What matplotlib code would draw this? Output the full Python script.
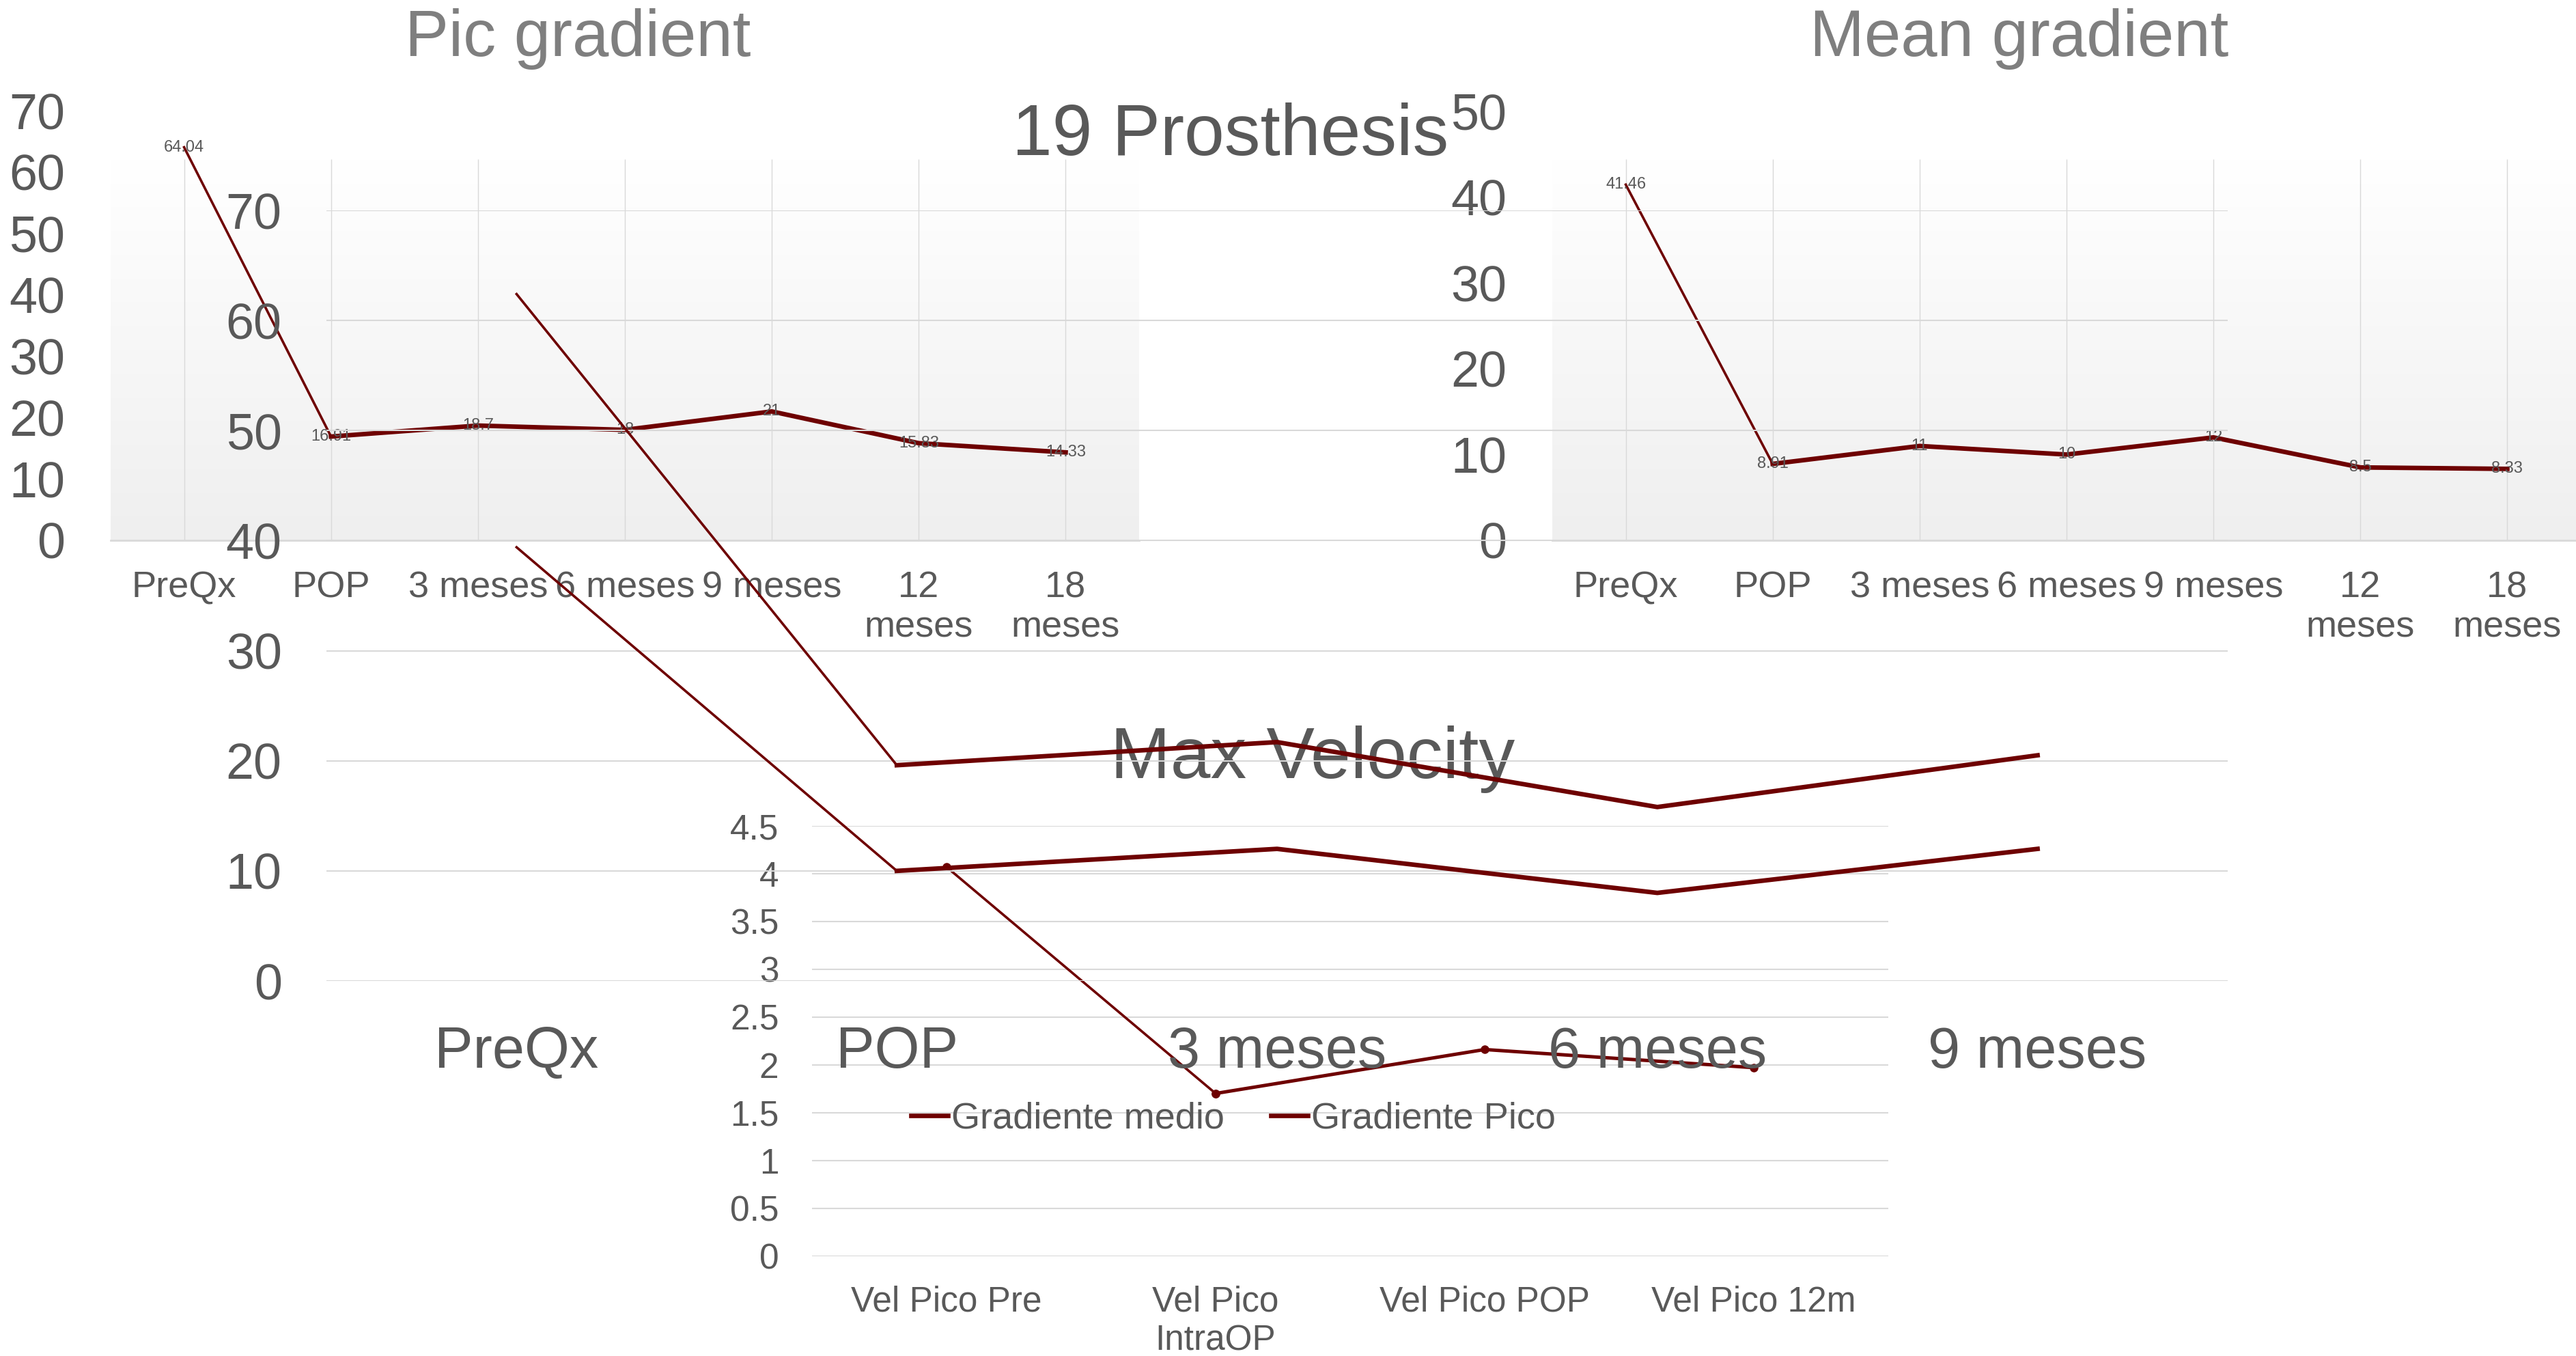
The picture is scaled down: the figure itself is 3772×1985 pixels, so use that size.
import numpy as np
import matplotlib
matplotlib.use("Agg")
import matplotlib.pyplot as plt
from matplotlib.colors import LinearSegmentedColormap

plt.rcParams['font.family'] = ['Liberation Sans', 'DejaVu Sans']

# data
stages = ['PreQx', 'POP', '3 meses', '6 meses', '9 meses', '12 meses', '18 meses']
stage_ticks = ['PreQx', 'POP', '3 meses', '6 meses', '9 meses', '12\nmeses', '18\nmeses']
pic_gradient = [64.04, 16.91, 18.7, 18, 21, 15.83, 14.33]
pic_labels = ['64.04', '16.91', '18.7', '18', '21', '15.83', '14.33']
mean_gradient = [41.46, 8.91, 11, 10, 12, 8.5, 8.33]
mean_labels = ['41.46', '8.91', '11', '10', '12', '8.5', '8.33']

pros_stages = ['PreQx', 'POP', '3 meses', '6 meses', '9 meses']
pros_series = ['Gradiente medio', 'Gradiente Pico']
grad_medio = [39.4, 10.0, 12.0, 8.0, 12.0]
grad_pico = [62.4, 19.6, 21.7, 15.8, 20.5]

vel_stages = ['Vel Pico Pre', 'Vel Pico\nIntraOP', 'Vel Pico POP', 'Vel Pico 12m']
vel_pico = [4.07, 1.70, 2.16, 1.97]

W, H = 3773, 1985
fig = plt.figure(figsize=(W / 100, H / 100), dpi=100)
fig.patch.set_facecolor('white')

red = '#6e0000'
txt = '#595959'
grid = '#d9d9d9'
thick = 4.8
thin = 2.6
grad_cmap = LinearSegmentedColormap.from_list('bg', ['#ffffff', '#efefef'])


def box(x0, x1, ytop, ybot):
    ax = fig.add_axes([x0 / W, 1 - ybot / H, (x1 - x0) / W, (ybot - ytop) / H])
    ax.patch.set_alpha(0)
    for s in ax.spines.values():
        s.set_visible(False)
    return ax


def split_line(ax, x, y, **kw):
    # first segment is drawn thin in the original, the rest thick
    ax.plot(x[:2], y[:2], color=red, lw=thin, clip_on=False, **kw)
    ln, = ax.plot(x[1:], y[1:], color=red, lw=thick, clip_on=False, **kw)
    return ln


def small_chart(ax, vals, labels, ymax, bg_top, title, title_x):
    x = np.arange(len(stages))
    ax.imshow(np.linspace(0, 1, 256).reshape(-1, 1), cmap=grad_cmap, aspect='auto',
              extent=(-0.5, len(stages) - 0.5, 0, bg_top), origin='upper', zorder=0)
    ax.vlines(x, 0, bg_top, color=grid, lw=1, zorder=1)
    ax.axhline(0, color=grid, lw=2, zorder=1, clip_on=False)
    split_line(ax, x, vals, zorder=3)
    for xi, v, lab in zip(x, vals, labels):
        ax.text(xi, v, lab, ha='center', va='center', fontsize=17, color=txt, zorder=4)
    ax.set_xlim(-0.5, len(stages) - 0.5)
    ax.set_ylim(0, ymax)
    ax.set_yticks(np.arange(0, ymax + 1, 10))
    ax.set_xticks(x)
    ax.set_xticklabels(stage_ticks)
    ax.tick_params(axis='x', length=0, pad=32, labelsize=39, labelcolor=txt)
    ax.tick_params(axis='y', length=0, pad=48, labelsize=53, labelcolor=txt)
    ax.text(title_x / W, 1 - 82 / H, title, transform=fig.transFigure, ha='center',
            va='baseline', fontsize=69, color='#7f7f7f')


# Pic gradient (top left)
ax1 = box(162, 1668, 162, 791)
small_chart(ax1, pic_gradient, pic_labels, 70, (791 - 233) / 8.986, 'Pic gradient', 846)

# Mean gradient (top right)
ax2 = box(2273, 3779, 163, 791)
small_chart(ax2, mean_gradient, mean_labels, 50, (791 - 233) / 12.56, 'Mean gradient', 2957)

# Max Velocity (bottom middle)
ax4 = box(1189, 2765, 1209, 1838.5)
xv = np.arange(len(vel_stages))
ax4.set_ylim(0, 4.5)
ax4.set_xlim(-0.5, len(vel_stages) - 0.5)
ax4.set_yticks(np.arange(0, 4.51, 0.5))
ax4.set_yticklabels(['0', '0.5', '1', '1.5', '2', '2.5', '3', '3.5', '4', '4.5'])
ax4.yaxis.grid(True, color=grid, lw=1.5)
ax4.set_axisbelow(True)
ax4.plot(xv[:2], vel_pico[:2], color=red, lw=thin, marker='o', ms=8, clip_on=False)
ax4.plot(xv[1:], vel_pico[1:], color=red, lw=3.6, marker='o', ms=8, clip_on=False)
ax4.set_xticks(xv)
ax4.set_xticklabels(vel_stages)
ax4.tick_params(axis='x', length=0, pad=31, labelsize=37, labelcolor=txt)
ax4.tick_params(axis='y', length=0, pad=35, labelsize=37, labelcolor=txt)
ax4.text(1922 / W, 1 - 1139 / H, 'Max Velocity', transform=fig.transFigure, ha='center',
         va='baseline', fontsize=76, color=txt)

# 19 Prosthesis (middle, on top)
ax3 = box(478, 3262, 308, 1436)
xp = np.arange(len(pros_stages))
ax3.set_ylim(0, 70)
ax3.set_xlim(-0.5, len(pros_stages) - 0.5)
ax3.set_yticks(np.arange(0, 71, 10))
ax3.yaxis.grid(True, color=grid, lw=1.5)
ax3.set_axisbelow(True)
h_medio = split_line(ax3, xp, grad_medio, zorder=3)
h_pico = split_line(ax3, xp, grad_pico, zorder=3)
ax3.set_xticks(xp)
ax3.set_xticklabels(pros_stages)
ax3.tick_params(axis='x', length=0, pad=47, labelsize=61, labelcolor=txt)
ax3.tick_params(axis='y', length=0, pad=47, labelsize=53, labelcolor=txt)
ax3.text(1802 / W, 1 - 227 / H, '19 Prosthesis', transform=fig.transFigure, ha='center',
         va='baseline', fontsize=76, color=txt)
ax3.legend([h_medio, h_pico], pros_series, loc='center', ncol=2, frameon=False,
           bbox_to_anchor=(1806 / W, 1 - 1638 / H), bbox_transform=fig.transFigure,
           fontsize=39, labelcolor=txt, handlelength=1.0, handletextpad=0.1,
           columnspacing=1.25, borderpad=0)

fig.savefig('out.png', dpi=100)
